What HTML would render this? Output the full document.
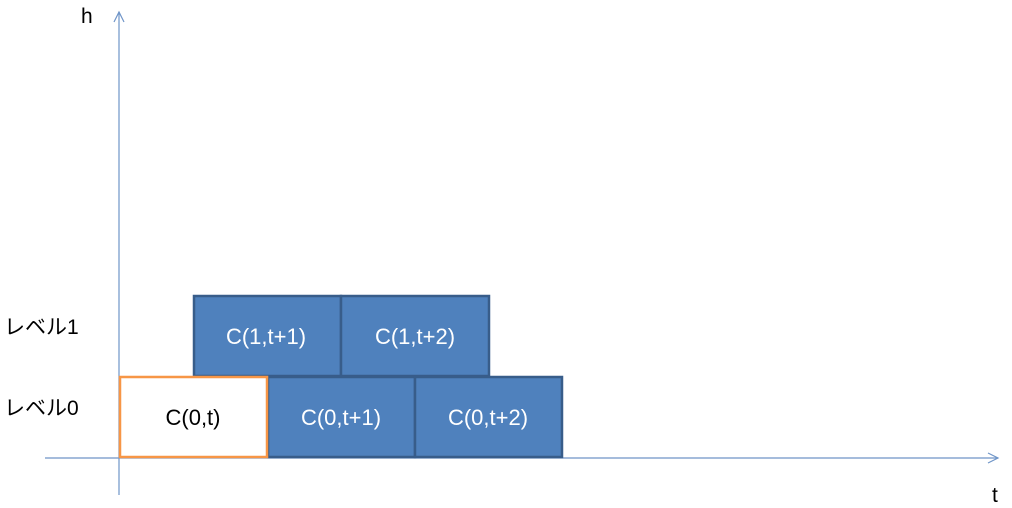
<!DOCTYPE html>
<html><head><meta charset="utf-8"><style>
html,body{margin:0;padding:0;background:#fff;}
svg{display:block;}
text{font-family:"Liberation Sans","Noto Sans CJK JP",sans-serif;}
</style></head><body>
<svg width="1012" height="508" viewBox="0 0 1012 508" xmlns="http://www.w3.org/2000/svg">
<line x1="119" y1="12" x2="119" y2="495" stroke="#6f95c8" stroke-width="1.2"/>
<polyline points="114,22 119,12 124,22" fill="none" stroke="#6f95c8" stroke-width="1.2"/>
<line x1="45" y1="458" x2="998" y2="458" stroke="#6f95c8" stroke-width="1.2"/>
<polyline points="988,453 998,458 988,463" fill="none" stroke="#6f95c8" stroke-width="1.2"/>
<text x="81" y="23" font-size="21" fill="#000">h</text>
<text x="992" y="502" font-size="21" fill="#000">t</text>
<text x="4" y="334" font-size="21" fill="#000">レベル1</text>
<text x="4" y="415" font-size="21" fill="#000">レベル0</text>
<g stroke="#385d8a" stroke-width="2.5" fill="#4f81bd">
<rect x="194" y="296" width="147" height="80"/>
<rect x="341" y="296" width="148" height="80"/>
<rect x="268" y="377" width="147" height="80"/>
<rect x="415" y="377" width="147" height="80"/>
</g>
<rect x="120" y="377" width="147" height="80" fill="#fff" stroke="#f79646" stroke-width="2.5"/>
<g font-size="22" text-anchor="middle" fill="#fff">
<text x="266" y="344">C(1,t+1)</text>
<text x="415" y="344">C(1,t+2)</text>
<text x="341" y="425">C(0,t+1)</text>
<text x="488" y="425">C(0,t+2)</text>
</g>
<text x="193" y="425" font-size="22" text-anchor="middle" fill="#000">C(0,t)</text>
</svg>
</body></html>
